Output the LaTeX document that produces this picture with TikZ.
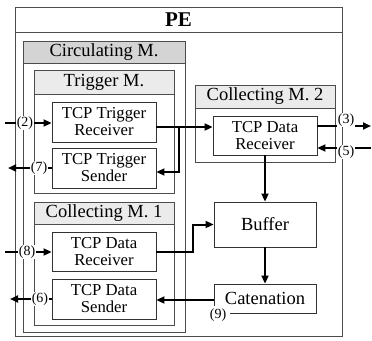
\documentclass[tikz,border=0pt]{standalone}
\usepackage{fontspec}
\setmainfont{Liberation Serif}
\newfontfamily\tms{Liberation Serif}
\usetikzlibrary{arrows.meta,calc}
\definecolor{edge}{gray}{0.3}
\definecolor{darkband}{gray}{0.83}
\definecolor{lightband}{gray}{0.92}
\begin{document}
\begin{tikzpicture}[x=1pt,y=-1pt,
 cont/.style={draw=edge, line width=0.9pt, inner sep=0pt, fill=white},
 band/.style={draw=edge, line width=0.9pt, inner sep=0pt, font=\tms\fontsize{18.5}{20}\selectfont},
 unit/.style={draw=black!80, line width=0.9pt, inner sep=0pt, fill=white, align=center, minimum width=104pt, font=\tms\fontsize{16.7}{17}\selectfont},
 bigunit/.style={unit, minimum width=102pt, font=\tms\fontsize{18.5}{20}\selectfont},
 arr/.style={line width=2pt, -{Triangle[length=8pt,width=7pt]}},
 lab/.style={fill=white, inner sep=1pt, font=\tms\fontsize{14}{15}\selectfont}]
\useasboundingbox (0,0) rectangle (372,340);
% containers
\node[cont, minimum width=327pt, minimum height=329pt] (pe) at (178.5,171.5) {};
\node[band, fill=white, minimum width=327pt, minimum height=25pt, font=\tms\bfseries\fontsize{21}{22}\selectfont] (pet) at (178.5,19.5) {PE};
\node[cont, minimum width=162pt, minimum height=291pt] (circ) at (104,186.5) {};
\node[band, fill=darkband, minimum width=162pt, minimum height=22pt] (circt) at (104,52) {Circulating M.};
\node[cont, minimum width=140pt, minimum height=123pt] (trig) at (104,131.5) {};
\node[band, fill=lightband, minimum width=140pt, minimum height=24pt] (trigt) at (104,82) {Trigger M.};
\node[cont, minimum width=140pt, minimum height=123pt] (col1) at (104,263.5) {};
\node[band, fill=lightband, minimum width=140pt, minimum height=22pt] (col1t) at (104,213) {Collecting M. 1};
\node[cont, minimum width=140pt, minimum height=77pt] (col2) at (265,123.5) {};
\node[band, fill=lightband, minimum width=140pt, minimum height=23pt] (col2t) at (265,96.5) {Collecting M. 2};
% units
\node[unit, minimum height=40pt] (TTR) at (104,122) {TCP Trigger\\Receiver};
\node[unit, minimum height=40pt] (TTS) at (104,168) {TCP Trigger\\Sender};
\node[unit, minimum height=39pt] (TDR1) at (104,251.5) {TCP Data\\Receiver};
\node[unit, minimum height=40pt] (TDS) at (104,299) {TCP Data\\Sender};
\node[unit, minimum height=39pt] (TDR2) at (265,135.5) {TCP Data\\Receiver};
\node[bigunit, minimum height=45pt] (Buf) at (265,224.5) {Buffer};
\node[bigunit, minimum height=29pt] (Cat) at (265,298.5) {Catenation};
% free ends
\coordinate (in2) at (5,123);
\coordinate (out7) at (8,168);
\coordinate (in8) at (5,252);
\coordinate (out6) at (10,299);
\coordinate (out3) at (371,126);
\coordinate (in5) at (371,148);
% connectors
\draw[arr] ([yshift=-5pt]TTR.east) -- ([yshift=-5pt]TTR.east -| TDR2.west);
\draw[arr] ([xshift=23pt,yshift=-5pt]TTR.east) |- ([yshift=-4pt]TTS.east);
\draw[arr] (in2) -- (in2 -| TTR.west);
\draw[arr] (TTS.west) -- (out7);
\draw[arr] (in8) -- (in8 -| TDR1.west);
\draw[arr] (TDS.west) -- (out6);
\draw[arr] (TDR1.east) -- ++(37pt,0) |- (Buf.west);
\draw[arr] ([yshift=-1.5pt]Cat.west) -- ([yshift=-1.5pt]Cat.west -| TDS.east);
\draw[arr] (TDR2.south) -- (Buf.north);
\draw[arr] (Buf.south) -- (Cat.north);
\draw[arr] (out3 -| TDR2.east) -- (out3);
\draw[arr] (in5) -- (in5 -| TDR2.east);
% labels
\node[lab] (l2) at (25,123) {(2)};
\node[lab] (l7) at (39,168) {(7)};
\node[lab] (l8) at (27,252) {(8)};
\node[lab] (l6) at (40,299) {(6)};
\node[lab] (l3) at (346,120) {(3)};
\node[lab] (l5) at (346,152) {(5)};
\node[lab, minimum width=24pt, minimum height=19pt] (l9) at (218,315) {(9)};
\end{tikzpicture}
\end{document}
